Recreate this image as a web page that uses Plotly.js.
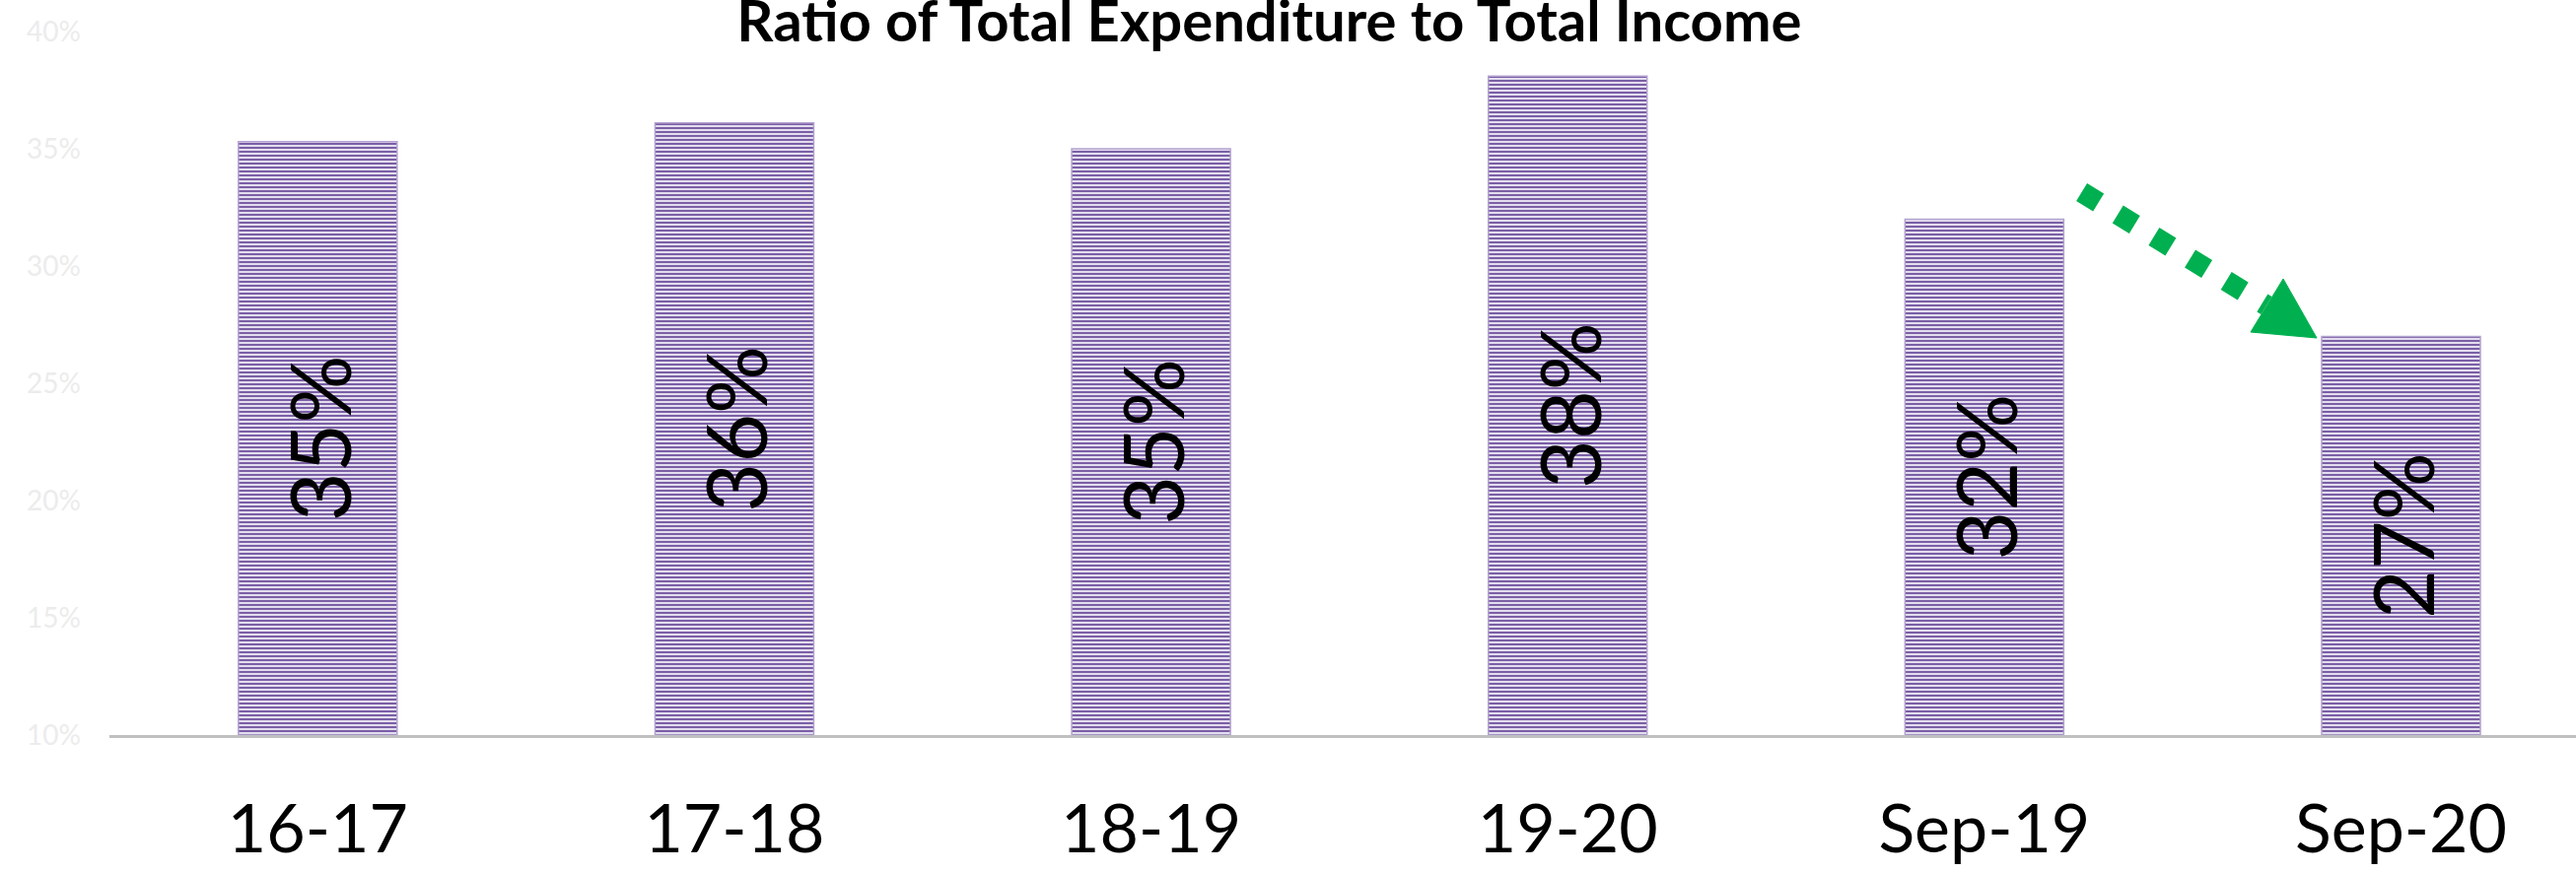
<!DOCTYPE html>
<html>
<head>
<meta charset="utf-8">
<script src="https://cdn.plot.ly/plotly-3.0.1.min.js"></script>
<style>
  html, body { margin: 0; padding: 0; background: #ffffff; }
  #chart { width: 2613px; height: 885px; }
</style>
</head>
<body>
<div id="chart"></div>
<script>
// ---- data ----
const categories = ["16-17", "17-18", "18-19", "19-20", "Sep-19", "Sep-20"];
const ratioValues = [35.3, 36.1, 35.0, 38.1, 32.0, 27.0];
const valueLabels = ["35%", "36%", "35%", "38%", "32%", "27%"];
const yTickValues = [10, 15, 20, 25, 30, 35, 40];
const yTickLabels = ["10%", "15%", "20%", "25%", "30%", "35%", "40%"];
const axisBase = 10;

const FONT = "Lato, 'Open Sans', 'DejaVu Sans', sans-serif";

const trace = {
  type: "bar",
  x: categories,
  y: ratioValues.map(v => v - axisBase),
  base: axisBase,
  text: valueLabels,
  textposition: "inside",
  insidetextanchor: "middle",
  textangle: -90,
  constraintext: "none",
  textfont: { family: FONT, size: 86, color: "#000000" },
  marker: {
    color: "#9f8cc2",
    line: { color: "#b3a2cf", width: 1.5 },
    pattern: {
      shape: "-",
      size: 4,
      solidity: 0.5,
      fgcolor: "#7b5fa6",
      bgcolor: "#e3ddee",
      fillmode: "replace",
      fgopacity: 1
    }
  },
  hoverinfo: "none"
};

const layout = {
  width: 2613,
  height: 885,
  paper_bgcolor: "#ffffff",
  plot_bgcolor: "#ffffff",
  margin: { l: 111, r: 0, t: 32, b: 139, pad: 0 },
  showlegend: false,
  bargap: 0.619,
  title: {
    text: "<b>Ratio of Total Expenditure to Total Income</b>",
    font: { family: FONT, size: 58, color: "#000000" },
    xref: "container",
    yref: "container",
    x: 0.4927,
    xanchor: "center",
    y: 1,
    yanchor: "top",
    pad: { t: 1 }
  },
  xaxis: {
    type: "category",
    range: [-0.5, 5.42],
    showline: true,
    linecolor: "#c0c0c0",
    linewidth: 3,
    showgrid: false,
    zeroline: false,
    ticks: "",
    ticklabelstandoff: 34,
    tickfont: { family: FONT, size: 68, color: "#000000" },
    fixedrange: true
  },
  yaxis: {
    range: [10, 40],
    tickvals: yTickValues,
    ticktext: yTickLabels,
    showline: false,
    showgrid: false,
    zeroline: false,
    ticks: "",
    ticklabelstandoff: 28,
    tickfont: { family: FONT, size: 28, color: "#ececec" },
    fixedrange: true
  },
  shapes: [
    {
      type: "line",
      xref: "paper", yref: "paper",
      x0: 0.7996, y0: 0.7717,
      x1: 0.8745, y1: 0.6106,
      line: { color: "#00b050", width: 21, dash: "20px,23px" },
      layer: "above"
    },
    {
      type: "path",
      xref: "paper", yref: "paper",
      path: "M 0.8949,0.5644 L 0.8813,0.6485 L 0.8681,0.5728 Z",
      fillcolor: "#00b050",
      line: { color: "#00b050", width: 1 },
      layer: "above"
    }
  ]
};

Plotly.newPlot("chart", [trace], layout, { staticPlot: true, displayModeBar: false });
</script>
</body>
</html>
